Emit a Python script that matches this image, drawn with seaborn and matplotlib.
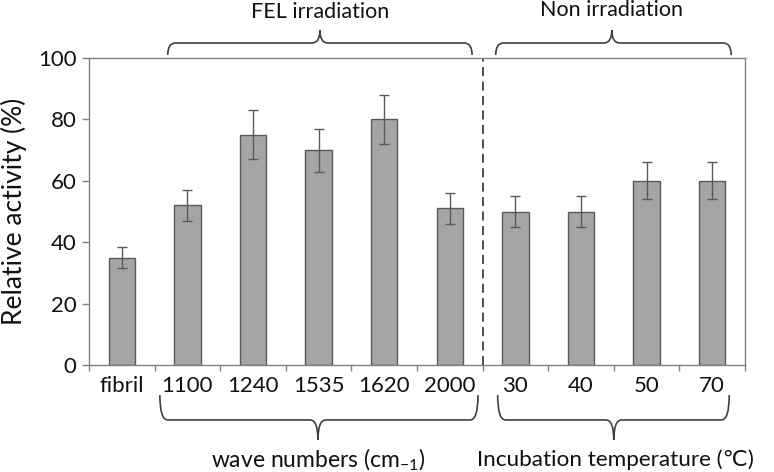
import numpy as np
import pandas as pd
import matplotlib
matplotlib.use("Agg")
import matplotlib.pyplot as plt
import matplotlib.transforms as mtransforms
from matplotlib.path import Path
from matplotlib.patches import PathPatch
import seaborn as sns

# ==============================
# Data
# ==============================
labels = ["fibril", "1100", "1240", "1535", "1620", "2000", "30", "40", "50", "70"]
activity = [35, 52, 75, 70, 80, 51, 50, 50, 60, 60]
errors = [3.5, 5, 8, 7, 8, 5, 5, 5, 6, 6]

df = pd.DataFrame({"label": labels, "activity": activity})

sns.set_style("white")
plt.rcParams["font.family"] = ["Lato", "DejaVu Sans"]
plt.rcParams["mathtext.fontset"] = "custom"
plt.rcParams["mathtext.rm"] = "Lato"
plt.rcParams["text.color"] = "#111111"
plt.rcParams["axes.labelcolor"] = "#111111"
plt.rcParams["xtick.labelcolor"] = "#111111"
plt.rcParams["ytick.labelcolor"] = "#111111"

fig, ax = plt.subplots(figsize=(7.74, 4.72), dpi=100)
fig.subplots_adjust(left=0.115, right=0.9625, bottom=0.2267, top=0.877)

sns.barplot(data=df, x="label", y="activity", order=labels, color="#a5a5a5",
            edgecolor="#595959", linewidth=1, width=0.4, saturation=1, ax=ax)

# error bars at the bar centres
xs = [p.get_x() + p.get_width() / 2 for p in ax.patches]
ax.errorbar(xs, activity, yerr=errors, fmt="none", ecolor="#595959",
            elinewidth=1, capsize=3.5, capthick=1)

ax.set_xlim(-0.5, len(labels) - 0.5)
ax.set_ylim(0, 100)
ax.set_yticks(np.arange(0, 101, 20))
ax.set_xlabel("")
ax.set_ylabel("Relative activity (%)", fontsize=19, labelpad=8)

for s in ax.spines.values():
    s.set_color("#808080")
    s.set_linewidth(1)

ax.tick_params(axis="y", which="major", direction="out", length=5, width=1,
               color="#808080", labelsize=16, pad=4, left=True)
ax.tick_params(axis="x", which="major", length=0, labelsize=16, pad=8)
ax.set_xticks(np.arange(-0.5, len(labels), 1), minor=True)
ax.tick_params(axis="x", which="minor", direction="out", length=4, width=1,
               color="#808080", bottom=True)

# separator between irradiated and non-irradiated groups
ax.axvline(5.5, color="#404040", linestyle=(0, (5, 3)), linewidth=1.3)

# ==============================
# Braces
# ==============================
trans = mtransforms.blended_transform_factory(ax.transData, ax.transAxes)


def brace(x0, x1, xt, y_end, y_line, y_tip):
    rx = 0.12
    verts = [
        (x0, y_end),
        (x0, y_line), (x0 + rx, y_line),
        (xt - rx, y_line),
        (xt, y_line), (xt, y_tip),
        (xt, y_line), (xt + rx, y_line),
        (x1 - rx, y_line),
        (x1, y_line), (x1, y_end),
    ]
    codes = [Path.MOVETO,
             Path.CURVE3, Path.CURVE3,
             Path.LINETO,
             Path.CURVE3, Path.CURVE3,
             Path.CURVE3, Path.CURVE3,
             Path.LINETO,
             Path.CURVE3, Path.CURVE3]
    patch = PathPatch(Path(verts, codes), facecolor="none", edgecolor="#404040",
                      linewidth=1.2, transform=trans, clip_on=False)
    ax.add_patch(patch)


brace(0.70, 5.34, 3.02, 1.01, 1.049, 1.091)
brace(5.70, 9.29, 7.47, 1.01, 1.049, 1.091)
brace(0.58, 5.43, 2.99, -0.098, -0.179, -0.244)
brace(5.73, 9.26, 7.50, -0.098, -0.179, -0.244)

ax.text(3.02, 1.15, "FEL irradiation", transform=trans, ha="center",
        va="center", fontsize=15.5)
ax.text(7.47, 1.155, "Non irradiation", transform=trans, ha="center",
        va="center", fontsize=15.5)
ax.text(2.99, -0.31, r"wave numbers (cm$\mathregular{_{-1}}$)", transform=trans,
        ha="center", va="center", fontsize=16.5)
ax.text(7.52, -0.31, "Incubation temperature (\u2103)", transform=trans,
        ha="center", va="center", fontsize=16.2)

plt.savefig("out.png", dpi=100)
